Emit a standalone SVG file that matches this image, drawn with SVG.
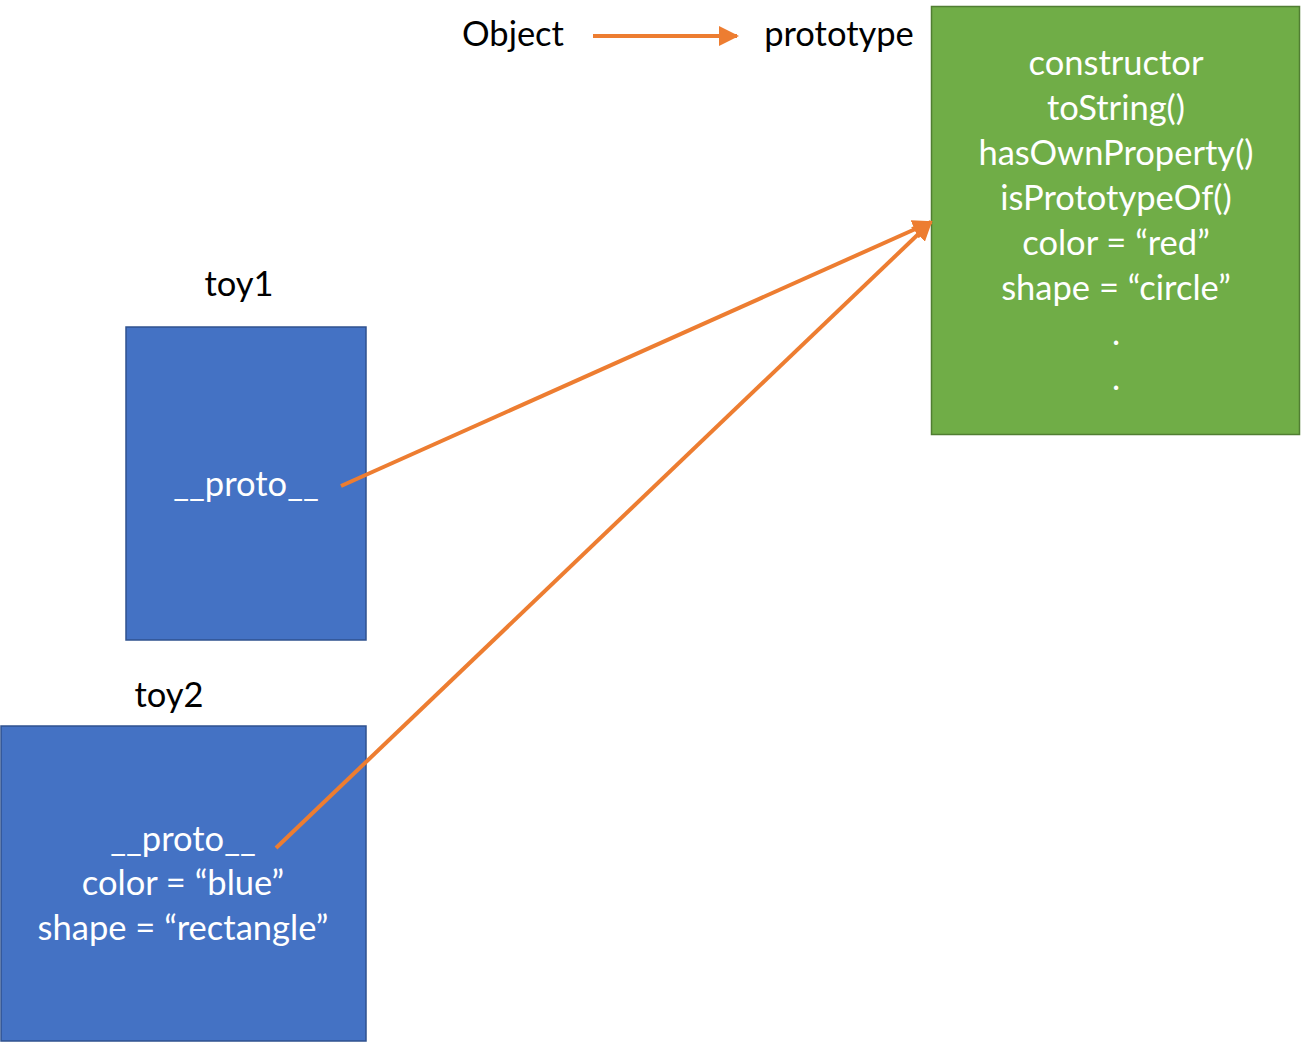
<svg xmlns="http://www.w3.org/2000/svg" width="1301" height="1042" viewBox="0 0 1301 1042">
<style>
text{font-family:Lato,"Open Sans","Liberation Sans",sans-serif;font-size:34.5px;text-anchor:middle}
.dark{fill:#000}
.light{fill:#fff}
.blue{fill:#4472C4;stroke:#2F528F;stroke-width:1.5}
.green{fill:#70AD47;stroke:#507E32;stroke-width:1.5}
.conn{stroke:#ED7D31;stroke-width:4;fill:none}
</style>
<defs>
<marker id="ah" markerWidth="5" markerHeight="5" refX="4.5" refY="2.5" orient="auto" markerUnits="strokeWidth">
<path d="M0,0 L5,2.5 L0,5 z" fill="#ED7D31"/>
</marker>
</defs>
<rect width="1301" height="1042" fill="#fff"/>
<g id="legend">
<text class="dark" x="513" y="46">Object</text>
<text class="dark" x="839" y="46">prototype</text>
</g>
<g id="prototype">
<rect class="green" x="931.5" y="6.5" width="368" height="428"/>
<text class="light" x="1116" y="75">constructor</text>
<text class="light" x="1116" y="120">toString()</text>
<text class="light" x="1116" y="165">hasOwnProperty()</text>
<text class="light" x="1116" y="210">isPrototypeOf()</text>
<text class="light" x="1116" y="255">color = “red”</text>
<text class="light" x="1116" y="300">shape = “circle”</text>
<text class="light" x="1116" y="345">.</text>
<text class="light" x="1116" y="390">.</text>
</g>
<g id="toy1">
<text class="dark" x="239" y="296">toy1</text>
<rect class="blue" x="126" y="327" width="240" height="313"/>
<text class="light" x="246" y="496">__proto__</text>
</g>
<g id="toy2">
<text class="dark" x="169" y="707">toy2</text>
<rect class="blue" x="1" y="726" width="365" height="315"/>
<text class="light" x="183" y="851">__proto__</text>
<text class="light" x="183" y="895">color = “blue”</text>
<text class="light" x="183" y="940">shape = “rectangle”</text>
</g>
<g id="connectors">
<line class="conn" x1="593" y1="36" x2="737" y2="36" marker-end="url(#ah)"/>
<line class="conn" x1="341" y1="486" x2="931" y2="222" marker-end="url(#ah)"/>
<line class="conn" x1="276" y1="848" x2="931" y2="222" marker-end="url(#ah)"/>
</g>
</svg>
